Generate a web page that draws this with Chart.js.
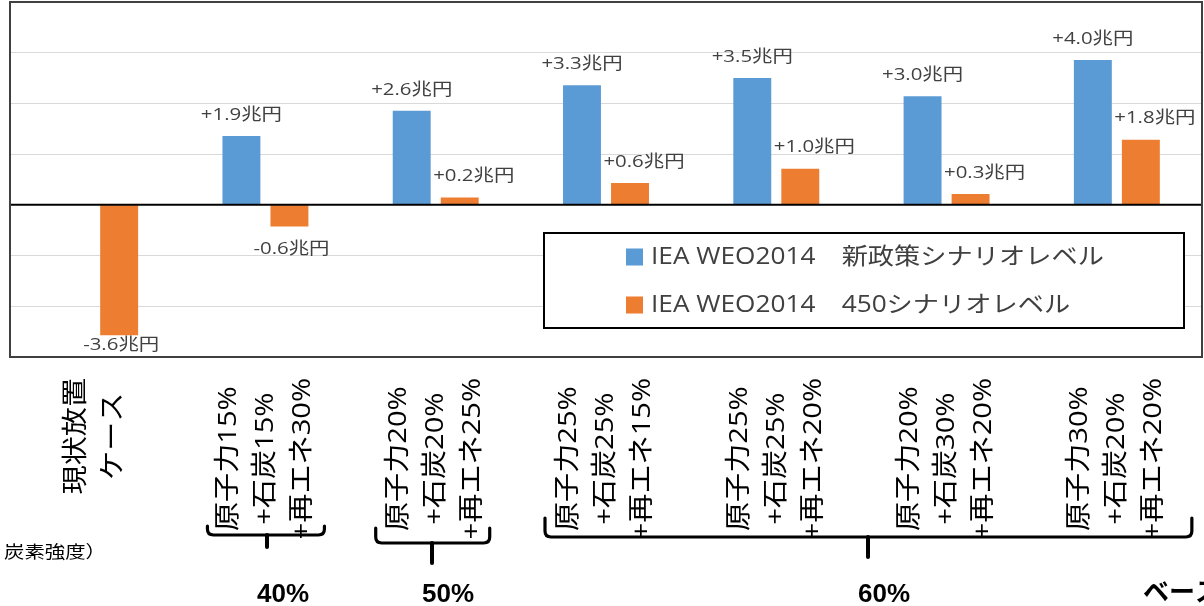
<!DOCTYPE html>
<html lang="ja">
<head>
<meta charset="utf-8">
<script src="https://cdn.jsdelivr.net/npm/chart.js@4/dist/chart.umd.min.js"></script>
<style>
  html, body { margin: 0; padding: 0; background: #fff; }
  #wrap { width: 1204px; height: 606px; position: relative; }
</style>
</head>
<body>
<div id="wrap"><canvas id="c" width="1204" height="606"></canvas></div>
<script>
// Scenario categories (each entry = lines of the vertical axis label)
const categories = [
  ["現状放置", "ケース"],
  ["原子力15%", "+石炭15%", "+再エネ30%"],
  ["原子力20%", "+石炭20%", "+再エネ25%"],
  ["原子力25%", "+石炭25%", "+再エネ15%"],
  ["原子力25%", "+石炭25%", "+再エネ20%"],
  ["原子力20%", "+石炭30%", "+再エネ20%"],
  ["原子力30%", "+石炭20%", "+再エネ20%"]
];

// Series names
const seriesNames = [
  "IEA WEO2014　新政策シナリオレベル",
  "IEA WEO2014　450シナリオレベル"
];

// Values in 兆円
const newPolicyValues = [null, 1.9, 2.6, 3.3, 3.5, 3.0, 4.0];
const scenario450Values = [-3.6, -0.6, 0.2, 0.6, 1.0, 0.3, 1.8];

// Horizontal gridline positions
const gridTicks = [-4.2, -2.8, -1.4, 0, 1.4, 2.8, 4.2, 5.6];

// Category groups under the braces: [label, first index, last index]
const groupLabels = ["40%", "50%", "60%"];
const groupFirst = [1, 2, 3];
const groupLast = [1, 2, 6];

// Side notes below the axis
const axisNote = "炭素強度）";
const baseNote = "ベース";

const COLORS = ["#5B9BD5", "#ED7D31"];
const LATIN_CJK = "'Open Sans', 'Noto Sans CJK JP', sans-serif";

// Draw text with optional horizontal stretch and rotation
function drawText(ctx, text, x, y, o) {
  ctx.save();
  ctx.translate(x, y);
  if (o.rotate) ctx.rotate(o.rotate);
  ctx.scale(o.sx || 1, 1);
  ctx.font = o.font;
  ctx.fillStyle = o.color || "#000";
  ctx.textAlign = o.align || "center";
  ctx.textBaseline = o.baseline || "middle";
  ctx.fillText(text, 0, 0);
  ctx.restore();
}

function brace(ctx, left, right, top, h, tickX, tickBottom) {
  const r = 6;
  ctx.save();
  ctx.strokeStyle = "#000";
  ctx.lineWidth = 3.2;
  ctx.lineCap = "round";
  ctx.lineJoin = "round";
  ctx.beginPath();
  ctx.moveTo(left, top);
  ctx.lineTo(left, h - r);
  ctx.quadraticCurveTo(left, h, left + r, h);
  ctx.lineTo(right - r, h);
  ctx.quadraticCurveTo(right, h, right, h - r);
  ctx.lineTo(right, top);
  ctx.stroke();
  ctx.lineWidth = 4;
  ctx.beginPath();
  ctx.moveTo(tickX, h);
  ctx.lineTo(tickX, tickBottom);
  ctx.stroke();
  ctx.restore();
}

const overlay = {
  id: "overlay",
  afterDatasetsDraw(chart) {
    const { ctx, chartArea: a, scales: { y } } = chart;
    // zero line over the bars
    const y0 = y.getPixelForValue(0);
    ctx.save();
    ctx.strokeStyle = "#000";
    ctx.lineWidth = 2;
    ctx.beginPath();
    ctx.moveTo(a.left, y0);
    ctx.lineTo(a.right, y0);
    ctx.stroke();
    // plot frame
    ctx.strokeStyle = "#404040";
    ctx.lineWidth = 2;
    ctx.strokeRect(a.left, a.top, a.right - a.left, a.bottom - a.top);
    ctx.restore();

    // value labels
    chart.data.datasets.forEach((ds, d) => {
      const meta = chart.getDatasetMeta(d);
      ds.data.forEach((v, i) => {
        if (v === null) return;
        const el = meta.data[i];
        const txt = (v > 0 ? "+" : "") + v.toFixed(1) + "兆円";
        let ly, dx = 0;
        if (v >= 0) {
          ly = el.y - 21;
          if (d === 1) dx = 14;
        } else {
          ly = Math.min(el.y + 23, a.bottom - 12);
          dx = 2;
        }
        drawText(ctx, txt, el.x + dx, ly, { font: "17px " + LATIN_CJK, color: "#404040", sx: 1.2 });
      });
    });
  },
  afterDraw(chart) {
    const { ctx, scales: { x } } = chart;

    // legend box
    ctx.save();
    ctx.fillStyle = "#fff";
    ctx.fillRect(544, 233, 640, 95);
    ctx.strokeStyle = "#000";
    ctx.lineWidth = 2;
    ctx.strokeRect(544, 233, 640, 95);
    ctx.restore();
    chart.data.datasets.forEach((ds, d) => {
      const cy = 257 + d * 48;
      ctx.fillStyle = ds.backgroundColor;
      ctx.fillRect(626, cy - 8.5, 17, 17);
      drawText(ctx, ds.label, 651, cy, { font: "23px " + LATIN_CJK, color: "#404040", align: "left", sx: 1.14 });
    });

    // rotated category labels
    const font = "26px " + LATIN_CJK;
    const sx = 1.12;
    ctx.font = font;
    categories.forEach((lines, i) => {
      const cx = x.getPixelForValue(i);
      const widths = lines.map(s => ctx.measureText(s).width * sx);
      const maxW = Math.max(...widths);
      const cy = 378 + maxW / 2;
      const pitch = 37;
      lines.forEach((s, k) => {
        const lx = cx + (k - (lines.length - 1) / 2) * pitch;
        drawText(ctx, s, lx, cy, { font, color: "#000", rotate: -Math.PI / 2, sx });
      });
    });

    // braces and group shares
    const braceShape = [
      { l: -58, r: 59, top: 526, h: 535, tick: 267, tb: 547 },
      { l: -60, r: 54, top: 528, h: 543, tick: 432, tb: 563 },
      { l: -61, r: 75, top: 518, h: 537, tick: 868, tb: 557 }
    ];
    groupLabels.forEach((g, k) => {
      const s = braceShape[k];
      const left = x.getPixelForValue(groupFirst[k]) + s.l;
      const right = x.getPixelForValue(groupLast[k]) + s.r;
      brace(ctx, left, right, s.top, s.h, s.tick, s.tb);
      drawText(ctx, g, s.tick + 16, 602, { font: "bold 26px 'Liberation Sans', Arial, sans-serif", color: "#000", baseline: "alphabetic" });
    });

    drawText(ctx, axisNote, 106, 552, { font: "17px 'Noto Sans CJK JP', sans-serif", color: "#000", align: "right", sx: 1.2 });
    drawText(ctx, baseNote, 1143, 601, { font: "bold 26px 'Noto Sans CJK JP', sans-serif", color: "#000", align: "left", baseline: "alphabetic" });
  }
};

new Chart(document.getElementById("c"), {
  type: "bar",
  data: {
    labels: categories.map(c => c.join("")),
    datasets: [
      { label: seriesNames[0], data: newPolicyValues, backgroundColor: COLORS[0], borderWidth: 0, categoryPercentage: 0.564, barPercentage: 0.79 },
      { label: seriesNames[1], data: scenario450Values, backgroundColor: COLORS[1], borderWidth: 0, categoryPercentage: 0.564, barPercentage: 0.79 }
    ]
  },
  options: {
    responsive: false,
    animation: false,
    devicePixelRatio: 1,
    layout: { padding: { left: 10, top: 2, right: 2, bottom: 249 } },
    plugins: { legend: { display: false }, tooltip: { enabled: false } },
    scales: {
      x: {
        grid: { display: false, drawTicks: false },
        ticks: { display: false, padding: 0 },
        border: { display: false }
      },
      y: {
        min: -4.2,
        max: 5.6,
        afterBuildTicks: s => { s.ticks = gridTicks.map(v => ({ value: v })); },
        ticks: { display: false, padding: 0 },
        grid: { color: "#d9d9d9", lineWidth: 1, drawTicks: false },
        border: { display: false }
      }
    }
  },
  plugins: [overlay]
});
</script>
</body>
</html>
